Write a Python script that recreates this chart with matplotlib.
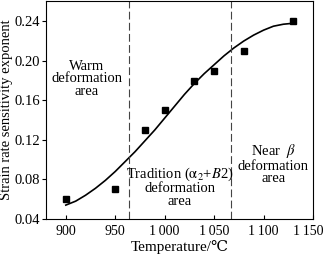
import matplotlib
matplotlib.use('Agg')
import matplotlib.pyplot as plt
from matplotlib.transforms import ScaledTranslation

# measured points
temp = [900, 950, 980, 1000, 1030, 1050, 1080, 1130]
m_value = [0.060, 0.070, 0.130, 0.150, 0.180, 0.190, 0.210, 0.240]

# fitted curve
curve_t = [900, 910, 920, 930, 940, 950, 960, 970, 980, 990, 1000, 1010, 1020,
           1030, 1040, 1050, 1060, 1070, 1080, 1090, 1100, 1110, 1120, 1130]
curve_m = [0.054, 0.058, 0.064, 0.071, 0.079, 0.088, 0.098, 0.108, 0.119, 0.130,
           0.142, 0.154, 0.166, 0.177, 0.187, 0.196, 0.205, 0.213, 0.220, 0.226,
           0.231, 0.235, 0.237, 0.238]

boundaries = [964, 1067]
xticks = [900, 950, 1000, 1050, 1100, 1150]
xticklabels = ['900', '950', '1\u2009000', '1\u2009050', '1\u2009100', '1\u2009150']
yticks = [0.04, 0.08, 0.12, 0.16, 0.20, 0.24]

plt.rcParams['font.family'] = ['Liberation Serif', 'DejaVu Serif', 'Noto Sans CJK SC']
plt.rcParams['mathtext.fontset'] = 'stix'

fig = plt.figure(figsize=(3.24, 2.54), dpi=100)
ax = fig.add_axes([0.142, 0.138, 0.824, 0.86])

ax.plot(curve_t, curve_m, color='black', lw=1.2)
ax.plot(temp, m_value, 's', color='black', markersize=3.8)
for b in boundaries:
    ax.axvline(b, color='#444444', lw=0.8, dashes=(7, 3))

ax.set_xlim(880, 1150)
ax.set_ylim(0.04, 0.261)
ax.set_xticks(xticks)
ax.set_xticklabels(xticklabels)
ax.set_yticks(yticks)
ax.set_yticklabels(['%.2f' % v for v in yticks])
ax.tick_params(axis='x', direction='in', length=3, pad=4, labelsize=10)
ax.tick_params(axis='y', direction='out', length=3, pad=1.5, labelsize=10.5)

# last label sits a little left so it fits in the picture
last = ax.get_xticklabels()[-1]
last.set_transform(last.get_transform() + ScaledTranslation(-0.045, 0, fig.dpi_scale_trans))

ax.set_xlabel('Temperature/\u2103', fontsize=11, labelpad=2)
ax.set_ylabel('Strain rate sensitivity exponent', fontsize=10.5, labelpad=0.5)

ax.text(921, 0.182, 'Warm\ndeformation\narea', ha='center', va='center',
        fontsize=10.5, linespacing=0.95)
ax.text(1015.5, 0.073, 'Tradition ($\\mathrm{\\alpha}_2$+$B$2)\ndeformation\narea',
        ha='center', va='center', fontsize=10.5, linespacing=0.95)
ax.text(1110, 0.096, 'Near  $\\beta$\ndeformation\narea', ha='center',
        va='center', fontsize=10.5, linespacing=0.95)

fig.savefig('out.png', dpi=100)
